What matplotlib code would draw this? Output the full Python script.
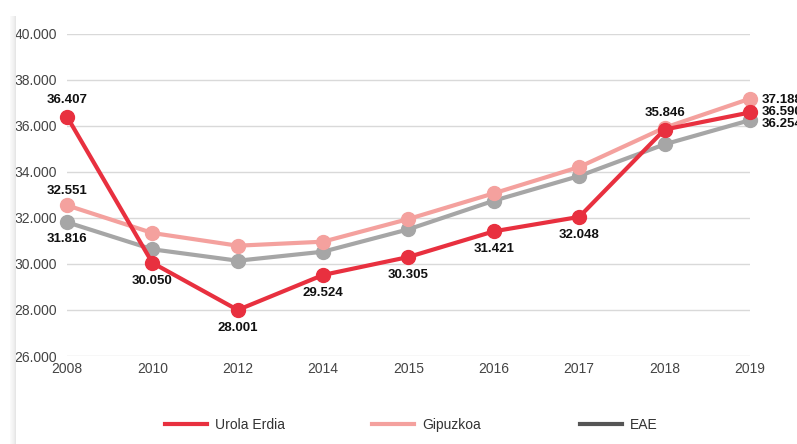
import matplotlib
matplotlib.use("Agg")
import matplotlib.pyplot as plt
from matplotlib.lines import Line2D
from matplotlib.patches import Rectangle
from matplotlib.ticker import FuncFormatter

years = ["2008", "2010", "2012", "2014", "2015", "2016", "2017", "2018", "2019"]
urola = [36407, 30050, 28001, 29524, 30305, 31421, 32048, 35846, 36590]
gipuzkoa = [32551, 31348, 30796, 30970, 31957, 33074, 34217, 35926, 37188]
eae = [31816, 30639, 30143, 30535, 31509, 32752, 33826, 35204, 36254]
series_names = ["Urola Erdia", "Gipuzkoa", "EAE"]
yticks = [26000, 28000, 30000, 32000, 34000, 36000, 38000, 40000]

plt.rcParams['font.family'] = ['Liberation Sans', 'DejaVu Sans']

fig = plt.figure(figsize=(7.97, 4.44), dpi=100)
W, H = 797, 444

# left card shadow
for i, c in enumerate(["#fafafa", "#f7f7f7", "#f4f4f4", "#f1f1f1", "#ececec", "#e6e6e6"]):
    x0 = 10 + i
    fig.patches.append(Rectangle((x0 / W, 0), 1 / W, 1 - 16 / H, transform=fig.transFigure,
                                 facecolor=c, edgecolor='none', zorder=0))

ax = fig.add_axes([67 / W, 1 - 356 / H, (750 - 67) / W, (356 - 34) / H])
ax.set_facecolor('none')
x = list(range(len(years)))

c_urola = "#e8303f"
c_gip = "#f4a19e"
c_eae = "#a6a6a6"

ax.plot(x, eae, color=c_eae, lw=3, marker='o', ms=10, zorder=3, clip_on=False)
ax.plot(x, gipuzkoa, color=c_gip, lw=3, marker='o', ms=10, zorder=4, clip_on=False)
ax.plot(x, urola, color=c_urola, lw=3, marker='o', ms=10, zorder=5, clip_on=False)

ax.set_xlim(0, len(years) - 1)
ax.set_ylim(26000, 40000)
ax.set_yticks(yticks)
ax.yaxis.set_major_formatter(FuncFormatter(lambda v, p: f"{int(v):,}".replace(",", ".")))
ax.set_xticks(x)
ax.set_xticklabels(years)
ax.grid(axis='y', color='#d9d9d9', lw=1)
ax.set_axisbelow(True)
for s in ax.spines.values():
    s.set_visible(False)
ax.tick_params(axis='both', length=0, labelsize=10, colors='#444444')
ax.tick_params(axis='y', pad=7)
ax.tick_params(axis='x', pad=4)

def fmt(v):
    return f"{v:,}".replace(",", ".")

def lab(i, vals, dx, dy, ha='center'):
    ax.annotate(fmt(vals[i]), (x[i], vals[i]), xytext=(dx, dy), textcoords='offset points',
                ha=ha, va='center', fontsize=9.5, fontweight='bold', color='#111111',
                annotation_clip=False, zorder=6)

# Urola labels
lab(0, urola, 0, 12)
for i in range(1, 7):
    lab(i, urola, 0, -13)
lab(7, urola, 0, 12)
lab(8, urola, 8.5, 0, ha='left')
# Gipuzkoa
lab(0, gipuzkoa, 0, 10)
lab(8, gipuzkoa, 8.5, -1, ha='left')
# EAE
lab(0, eae, 0, -12)
lab(8, eae, 8.5, -3, ha='left')

handles = [Line2D([0], [0], color=c_urola, lw=3),
           Line2D([0], [0], color=c_gip, lw=3),
           Line2D([0], [0], color="#555555", lw=3)]
starts = [165, 372, 580]
for h, name, sx in zip(handles, series_names, starts):
    fig.legend([h], [name], loc='center left', bbox_to_anchor=(sx / W, 1 - 425 / H),
               frameon=False, fontsize=10, handlelength=3.0, handletextpad=0.6,
               borderpad=0, borderaxespad=0, labelcolor='#333333')

fig.savefig("out.png", dpi=100)
